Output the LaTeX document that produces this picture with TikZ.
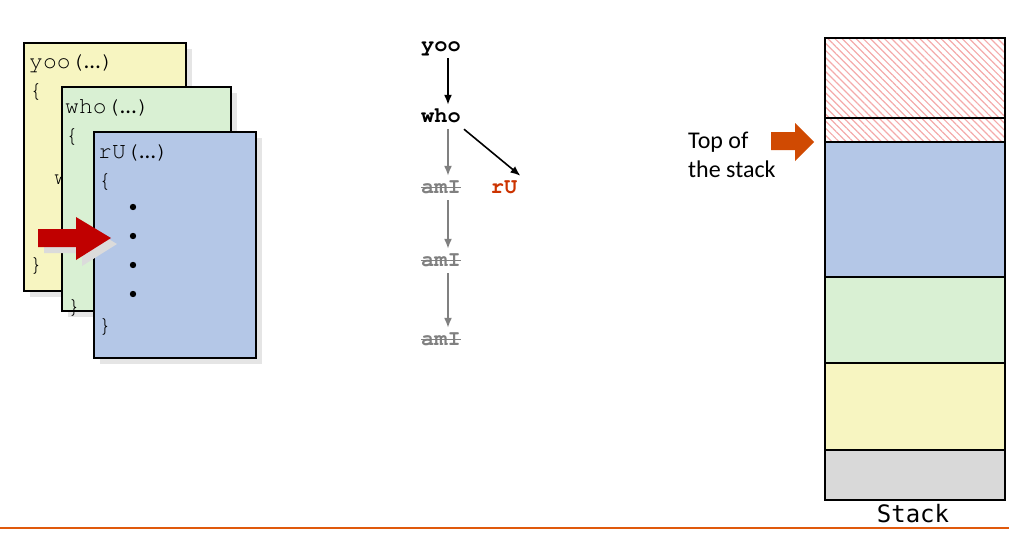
\documentclass[tikz,border=0pt]{standalone}
\usepackage{fontspec}
\setmainfont{Carlito}
\newfontfamily\codefont{TeX Gyre Cursor}
\newfontfamily\stackfont{DejaVu Sans Mono}
\usetikzlibrary{arrows.meta,patterns.meta,positioning}

\definecolor{frameyellow}{HTML}{F7F5C1}
\definecolor{framegreen}{HTML}{D9F0D3}
\definecolor{frameblue}{HTML}{B4C7E7}
\definecolor{framegray}{HTML}{D9D9D9}
\definecolor{callred}{HTML}{C00000}
\definecolor{topred}{HTML}{D04A02}
\definecolor{ruorange}{HTML}{CC3300}
\definecolor{ruleorange}{HTML}{E0590C}
\definecolor{hatchred}{HTML}{F4AAAA}

\newcommand{\callsig}[1]{{\codefont #1(}{\rmfamily …}{\codefont )}}
\newcommand{\struck}[1]{\setbox0\hbox{#1}\rlap{\copy0}\rule[0.23em]{\wd0}{1.2pt}}

\tikzset{
  codeframe/.style={draw=black,line width=1.2pt},
  frameshadow/.style={fill=black!10},
  codeline/.style={anchor=base west,inner sep=0pt,font=\fontsize{23}{23}\selectfont\codefont},
  callname/.style={inner sep=3pt,text height=14pt,text depth=4pt,anchor=base,
    font=\fontsize{22}{22}\selectfont\codefont\bfseries},
  callarrow/.style={->,line width=1.6pt},
  oldarrow/.style={->,line width=1.6pt,gray},
  stackcell/.style={draw=black,line width=2.5pt}
}

\begin{document}
\begin{tikzpicture}[x=1pt,y=-1pt,>={Latex[length=10pt,width=8pt]}]
  \useasboundingbox (0,0) rectangle (1009,533);

  % Frame of yoo
  \fill[frameshadow] (30,49) rectangle (192,297);
  \draw[codeframe,fill=frameyellow] (24,43) rectangle (186,291);
  \node[codeline] (yooSig) at (29,68) {\callsig{yoo}};
  \node[codeline] (yooOpen) at (29,97) {\{};
  \node[codeline] (yooCall) at (54,184) {w};
  \node[codeline] (yooClose) at (29,271) {\}};

  % Frame of who
  \fill[frameshadow] (68,93) rectangle (237,317);
  \draw[codeframe,fill=framegreen] (62,87) rectangle (231,311);
  \node[codeline] (whoSig) at (65,113) {\callsig{who}};
  \node[codeline] (whoOpen) at (65,142) {\{};
  \node[codeline] (whoClose) at (67,313) {\}};

  % Frame of rU
  \fill[frameshadow] (100,138) rectangle (262,364);
  \draw[codeframe,fill=frameblue] (94,132) rectangle (256,358);
  \node[codeline] (ruSig) at (98,158) {\callsig{rU}};
  \node[codeline] (ruOpen) at (98,187) {\{};
  \foreach \y in {207,236,265,294}
    \fill (133,\y) circle (3.2);
  \node[codeline] (ruClose) at (98,332) {\}};

  % Current call arrow
  \fill[black!14] (44,235) -- (82,235) -- (82,223) -- (117,244) -- (82,266) -- (82,253) -- (44,253) -- cycle;
  \fill[callred] (38,229) -- (76,229) -- (76,217) -- (111,238) -- (76,260) -- (76,247) -- (38,247) -- cycle;

  % Call tree
  \node[callname] (yoo) at (441,51) {yoo};
  \node[callname] (who) at (441,122) {who};
  \node[callname,text=gray] (amIa) at (441,193) {\struck{amI}};
  \node[callname,text=gray] (amIb) at (441,266) {\struck{amI}};
  \node[callname,text=gray] (amIc) at (441,345) {\struck{amI}};
  \node[callname,text=ruorange] (rU) at (504,193) {rU};

  \draw[callarrow] ([xshift=7pt]yoo.south) -- ([xshift=7pt]who.north);
  \draw[callarrow] (who.south east) -- (rU.north east);
  \draw[oldarrow] ([xshift=7pt]who.south) -- ([xshift=7pt]amIa.north);
  \draw[oldarrow] ([xshift=7pt]amIa.south) -- ([xshift=7pt]amIb.north);
  \draw[oldarrow] ([xshift=7pt]amIb.south) -- ([xshift=7pt]amIc.north);

  % Stack
  \fill[pattern={Lines[angle=-45,distance=5pt,line width=1.2pt]},pattern color=hatchred] (825,38) rectangle (1005,142);
  \fill[frameblue] (825,142) rectangle (1005,277);
  \fill[framegreen] (825,277) rectangle (1005,363);
  \fill[frameyellow] (825,363) rectangle (1005,450);
  \fill[framegray] (825,450) rectangle (1005,500);
  \foreach \y in {118,142,277,363,450}
    \draw[line width=2.5pt] (825,\y) -- (1005,\y);
  \draw[stackcell] (825,38) rectangle (1005,500);
  \node[anchor=base,inner sep=0pt,font=\fontsize{24}{24}\selectfont\stackfont] (stackLabel) at (913,522) {Stack};

  % Top of the stack
  \node[anchor=base west,inner sep=0pt,align=left,font=\fontsize{24}{29}\selectfont] (topText) at (688,177) {Top of\\the stack};
  \fill[topred] (771,132) -- (795,132) -- (795,123) -- (814,142) -- (795,161) -- (795,150) -- (771,150) -- cycle;

  % Bottom rule
  \draw[ruleorange,line width=1.5pt] (0,528) -- (1009,528);
\end{tikzpicture}
\end{document}
